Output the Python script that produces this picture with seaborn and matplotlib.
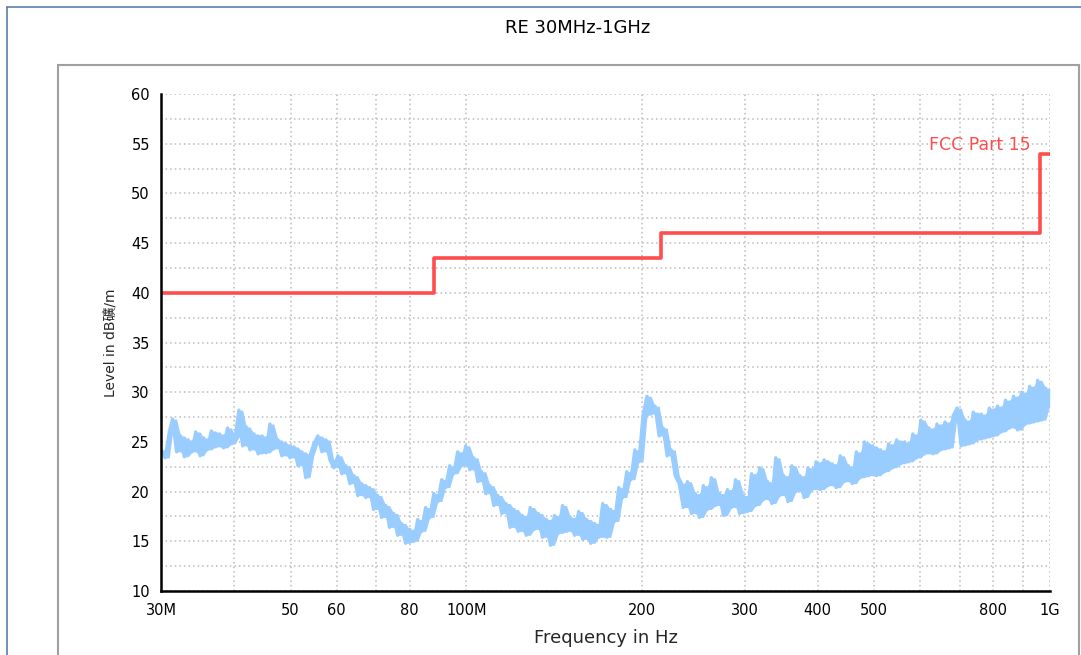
import numpy as np
import pandas as pd
import matplotlib
matplotlib.use("Agg")
import matplotlib.pyplot as plt
import seaborn as sns
from matplotlib.patches import Rectangle
from matplotlib.lines import Line2D
from matplotlib.ticker import FixedLocator, FixedFormatter, NullFormatter

# =====================================================
# DATA
# =====================================================

# measured trace, frequency in MHz / level in dBuV/m
freq_mhz = [
    30, 30.5, 31, 31.4, 31.9, 32.4, 32.9, 33.4, 33.9, 34.4, 35, 35.5, 36, 36.6, 37.2, 37.8, 38.4, 39, 39.6, 40.2,
    40.8, 41.4, 42, 42.6, 43.3, 44, 44.7, 45.4, 46.1, 46.8, 47.6, 48.3, 49.1, 49.9,
    50.7, 51.5, 52.3, 53.1, 54, 54.8, 55.7, 56.6, 57.5, 58.4,
    59.3, 60.3, 61.2, 62.2, 63.2, 64.2, 65.2, 66.2, 67.3,
    68.3, 69.4, 70.5, 71.6, 72.8, 73.9, 75.1, 76.3, 77.5, 78.7, 80,
    81.3, 82.6, 83.9, 85.2, 86.6, 88, 89.4, 90.8, 92.2, 93.7, 95.2, 96.7, 98.3,
    99.8, 101.4, 103, 104.7, 106.3, 108, 109.8, 111.5, 113.3, 115.1,
    117, 118.9, 120.8, 122.7, 124.7, 126.7, 128.7, 130.8, 132.9, 135, 137.2, 139.4, 141.6, 143.9, 146.2, 148.5,
    150.9, 153.3, 155.8, 158.3, 160.8, 163.4, 166, 168.6,
    171.3, 174, 176.8, 179.6, 182.5, 185.4, 188.4, 191.4, 194.5, 197.6,
    200.8, 204, 207.3, 210.6, 214, 217.4, 220.9, 224.4, 228,
    231.7, 235.4, 239.2, 243, 246.9, 250.8, 254.8, 258.9, 263, 267.2, 271.5, 275.8, 280.2, 284.7, 289.3, 293.9,
    298.6, 303.4,
    308.2, 313.2, 318.2, 323.3, 328.4, 333.7, 339, 344.5, 350, 355.6, 361.3, 367.1, 373, 379, 385, 391.2, 397.4,
    403.8, 410.2, 416.8, 423.5, 430.3, 437.2, 444.2, 451.3, 458.5, 465.9, 473.4, 481, 488.7, 496.5,
    504.5, 512.6, 520.8, 529.1, 537.6, 546.2, 555, 563.9, 572.9, 582.1, 591.4, 600.9,
    610.5, 620.3, 630.2, 640.3, 650.6, 661, 671.6, 682.3, 693.3, 704.4, 715.6, 727.1, 738.7, 750.5, 762.6, 774.8,
    787.2, 799.8,
    812.6, 825.6, 838.8, 852.2, 865.9, 879.7, 893.8, 908.1, 922.7, 937.4, 952.4, 967.7, 983.2, 998.9,
]
level_dbuv = [
    24.2, 23.4, 26.0, 27.3, 24.0, 25.6, 23.5, 25.2, 24.0, 26.0, 23.6, 25.4, 24.2, 26.1, 24.5, 25.8, 24.4, 26.4, 24.8, 25.5,
    28.2, 24.6, 26.5, 24.2, 25.8, 23.8, 25.6, 23.9, 26.8, 24.3, 25.2, 23.6, 24.8, 23.4,
    24.5, 22.6, 24.0, 21.4, 23.6, 24.8, 25.6, 24.0, 25.2, 23.2,
    22.4, 23.6, 21.8, 22.6, 20.8, 21.6, 19.6, 20.8, 19.4,
    20.4, 18.2, 19.6, 17.4, 18.6, 16.4, 17.8, 15.6, 16.8, 14.8, 16.2,
    15.0, 17.2, 16.0, 18.4, 17.4, 19.8, 19.0, 21.2, 20.4, 22.6, 21.8, 24.0, 22.6,
    24.6, 22.2, 23.4, 21.0, 22.0, 19.8, 20.6, 18.6, 19.6, 17.8,
    18.8, 16.4, 18.2, 16.0, 17.6, 15.6, 18.4, 16.2, 17.8, 15.4, 17.2, 14.6, 17.6, 15.8, 18.6, 16.0,
    17.4, 15.6, 18.0, 15.2, 17.2, 14.8, 16.8, 15.4,
    18.8, 15.4, 18.2, 17.0, 20.4, 19.4, 22.0, 21.2, 24.2, 23.0,
    27.6, 29.6, 27.8, 28.6, 25.6, 26.4, 23.6, 24.2, 21.6,
    20.8, 18.4, 21.0, 17.8, 19.8, 17.4, 20.6, 18.2, 21.4, 18.6, 19.8, 17.6, 20.2, 18.4, 21.2, 17.8,
    19.6, 18.0,
    21.8, 18.6, 22.4, 19.2, 21.0, 18.8, 23.4, 19.6, 21.6, 19.0, 22.6, 20.0, 21.6, 19.4, 22.4, 20.2, 23.0,
    20.2, 23.2, 20.6, 22.8, 20.4, 23.6, 21.0, 22.6, 20.8, 24.0, 21.4, 25.0, 21.6, 24.6,
    21.6, 24.2, 22.0, 24.8, 22.4, 25.2, 22.8, 25.0, 23.0, 25.8, 23.4, 27.2,
    23.8, 26.4, 23.8, 26.8, 24.2, 27.0, 24.4, 27.6, 28.4, 24.6, 27.2, 24.8, 28.0, 25.2, 27.8, 25.4,
    28.4, 25.6,
    28.6, 26.0, 29.2, 26.4, 29.6, 26.2, 30.0, 26.8, 30.6, 27.0, 31.2, 27.2, 30.4, 28.6,
]

# FCC Part 15 limit (steps)
limit_freq = [30, 88, 88, 216, 216, 960, 960, 1000]
limit_level = [40, 40, 43.5, 43.5, 46, 46, 54, 54]

x_ticks = [30, 40, 50, 60, 70, 80, 100, 200, 300, 400, 500, 600, 700, 800, 900, 1000]
x_tick_labels = ["30M", "", "50", "60", "", "80", "100M", "200", "300", "400", "500", "", "", "800", "", "1G"]

trace = pd.DataFrame({"freq": freq_mhz, "level": level_dbuv})
limit = pd.DataFrame({"freq": limit_freq, "level": limit_level})

# band between neighbouring samples, so the noisy trace reads as a solid strip
trace["lo"] = trace["level"].rolling(2, min_periods=1).min()
trace["hi"] = trace["level"].rolling(2, min_periods=1).max()

# =====================================================
# PLOT
# =====================================================

sns.set_theme(style="white")
plt.rcParams["font.family"] = ["DejaVu Sans", "Noto Sans CJK JP"]

fig = plt.figure(figsize=(10.81, 6.55), dpi=100)
W, H = 1081, 655

# outer frame and grey panel
fig.add_artist(Line2D([7 / W, 1], [1 - 7 / H, 1 - 7 / H], color="#5b7fa8", lw=1.2))
fig.add_artist(Line2D([7 / W, 7 / W], [0, 1 - 7 / H], color="#5b7fa8", lw=1.2))
fig.add_artist(Rectangle((58 / W, -0.05), (1079 - 58) / W, 1 - 65 / H + 0.05,
                         fill=False, edgecolor="#a0a0a0", lw=1.5))

ax = fig.add_axes([161 / W, 1 - 591 / H, (1050 - 161) / W, (591 - 94) / H])

ax.fill_between(trace["freq"], trace["lo"], trace["hi"], color="#99ccff", lw=0)
sns.lineplot(data=trace, x="freq", y="level", ax=ax, color="#99ccff",
             linewidth=2.4, sort=False, estimator=None)
sns.lineplot(data=limit, x="freq", y="level", ax=ax, color="#ff4d4d",
             linewidth=2.6, sort=False, estimator=None)

ax.set_xscale("log")
ax.set_xlim(30, 1000)
ax.set_ylim(10, 60)

ax.xaxis.set_major_locator(FixedLocator(x_ticks))
ax.xaxis.set_major_formatter(FixedFormatter(x_tick_labels))
ax.xaxis.set_minor_formatter(NullFormatter())
ax.xaxis.set_minor_locator(FixedLocator([]))
ax.set_yticks(np.arange(10, 61, 5))
ax.set_yticks(np.arange(12.5, 60, 5), minor=True)

ax.tick_params(axis="both", which="both", direction="inout", color="black",
               width=1.5, labelsize=10.5, labelcolor="black")
ax.tick_params(axis="both", which="major", length=9)
ax.tick_params(axis="y", which="minor", length=9)
ax.tick_params(axis="x", pad=4)

ax.grid(True, which="both", linestyle=(0, (1, 2)), color="#bbbbbb", linewidth=1.1)
for side in ["top", "right"]:
    ax.spines[side].set_visible(False)
for side in ["left", "bottom"]:
    ax.spines[side].set_color("black")
    ax.spines[side].set_linewidth(1.8)

ax.set_xlabel("Frequency in Hz", fontsize=13, labelpad=8)
ax.set_ylabel("Level in dB礦/m", fontsize=10, labelpad=10)

ax.text(928, 54.0, "FCC Part 15", color="#ff4d4d", fontsize=12.5,
        ha="right", va="bottom")

fig.text(578 / W, 1 - 28 / H, "RE 30MHz-1GHz", fontsize=13, ha="center",
         va="center", color="black")

fig.savefig("out.png", dpi=100)
